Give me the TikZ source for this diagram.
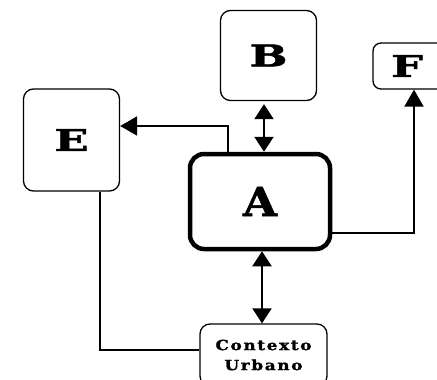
\documentclass[tikz,border=0pt]{standalone}
\usepackage{fontspec}
\setmainfont{DejaVu Serif}
\newfontfamily\widebold[FakeStretch=1.5,FakeBold=1.5]{DejaVu Serif Bold}
\newfontfamily\mainbold[FakeStretch=1.1,FakeBold=1.5]{DejaVu Serif Bold}
\newfontfamily\labelbold[FakeStretch=1.2,LetterSpace=12,FakeBold=1.5]{DejaVu Serif Bold}
\usetikzlibrary{arrows.meta}
\tikzset{
  box/.style={draw, line width=1.3pt, rounded corners=10pt, inner sep=0pt,
              font=\widebold\fontsize{30}{32}\selectfont},
  mainbox/.style={box, line width=4.5pt, rounded corners=14pt,
                  font=\mainbold\fontsize{40}{42}\selectfont},
  smallbox/.style={box, font=\labelbold\fontsize{14}{20}\selectfont, align=center},
  link/.style={line width=2pt},
  tip/.style={-{Triangle[width=19pt,length=17pt]}},
  dtip/.style={{Triangle[width=19pt,length=15pt]}-{Triangle[width=19pt,length=15pt]}}
}
\begin{document}
\begin{tikzpicture}[x=1pt,y=-1pt]
  \useasboundingbox (0,0) rectangle (437,380);
  % boxes
  \node[box, minimum width=96pt, minimum height=90pt] (B) at (268.5,55.5) {B};
  \node[box, minimum width=96pt, minimum height=102pt] (E) at (71.5,140) {E};
  \node[box, rounded corners=8pt, minimum width=80pt, minimum height=46pt] (F) at (413,66) {F\hspace*{12pt}};
  \node[mainbox, minimum width=140pt, minimum height=95pt] (A) at (260,201.5) {A};
  \node[smallbox, minimum width=127pt, minimum height=62pt] (C) at (263.5,355) {Contexto\\Urbano};
  % bend points of the connectors
  \coordinate (ba) at (264,0);
  \coordinate (ae) at (228,126);
  \coordinate (af) at (414,233);
  \coordinate (ac) at (262,0);
  \coordinate (ec) at (100,350);
  % connectors
  \draw[link, dtip, shorten <=3pt] (B.south -| ba) -- (A.north -| ba);
  \draw[link, tip] (A.north -| ae) |- (E.east |- ae);
  \draw[link, tip] (A.east |- af) -| (F.south -| af);
  \draw[link, dtip] (A.south -| ac) -- (C.north -| ac);
  \draw[link] (E.south -| ec) |- (C.west |- ec);
\end{tikzpicture}
\end{document}
